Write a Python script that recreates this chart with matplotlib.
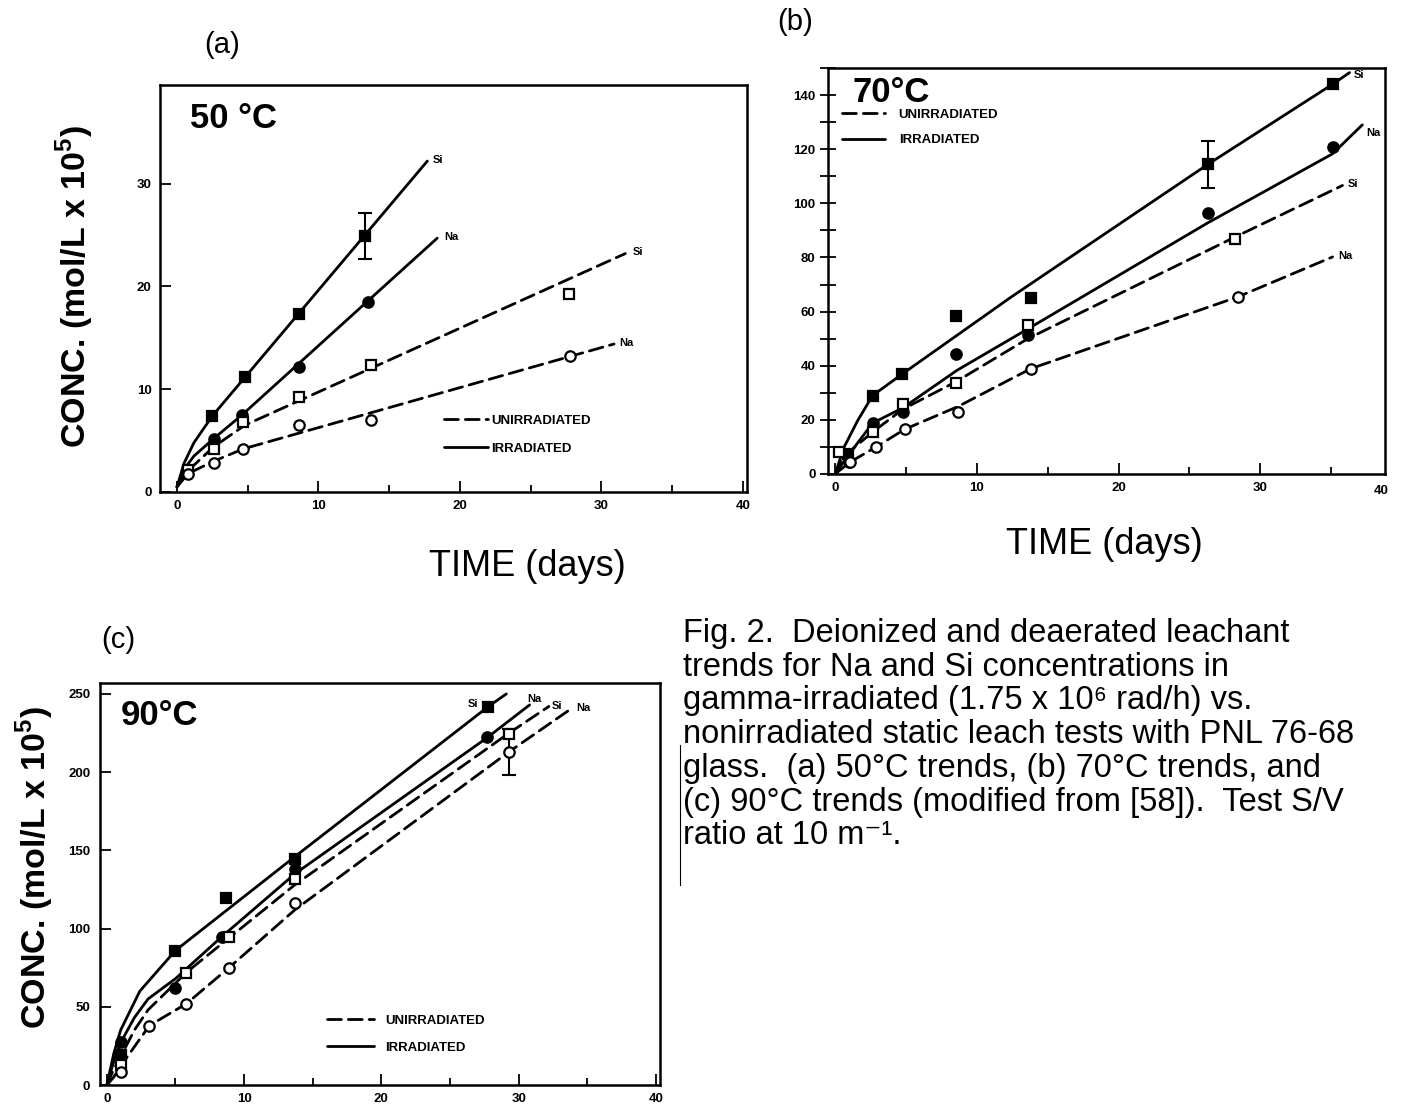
import matplotlib
matplotlib.use("Agg")
import matplotlib.pyplot as plt
from matplotlib.lines import Line2D
from matplotlib.ticker import MultipleLocator

plt.rcParams['font.family'] = ['Liberation Sans', 'DejaVu Sans']
plt.rcParams['mathtext.fontset'] = 'custom'
plt.rcParams['mathtext.rm'] = 'Liberation Sans'
plt.rcParams['mathtext.bf'] = 'Liberation Sans:bold'

# ---------------- (a) 50 C : measured points ----------------
a_si_irr_t = [2.5, 4.8, 8.6, 13.3]
a_si_irr_c = [7.4, 11.2, 17.3, 24.9]
a_na_irr_t = [2.6, 4.6, 8.6, 13.5]
a_na_irr_c = [5.2, 7.5, 12.2, 18.5]
a_si_un_t = [0.8, 2.6, 4.7, 8.6, 13.7, 27.7]
a_si_un_c = [2.1, 4.2, 6.8, 9.2, 12.4, 19.3]
a_na_un_t = [0.8, 2.6, 4.7, 8.6, 13.7, 27.8]
a_na_un_c = [1.8, 2.8, 4.2, 6.5, 7.0, 13.2]
a_err_t, a_err_c, a_err = [13.3], [24.9], [2.25]
# trend curves as drawn in the figure
a_si_irr_fit_t = [0, 0.5, 1.2, 2.5, 17.7]
a_si_irr_fit_c = [0.5, 2.8, 4.8, 7.4, 32.2]
a_na_irr_fit_t = [0, 0.6, 1.2, 2.6, 4.6, 18.4]
a_na_irr_fit_c = [0.5, 2.4, 3.5, 5.2, 7.5, 24.7]
a_si_un_fit_t = [0, 0.8, 2.6, 4.8, 31.7]
a_si_un_fit_c = [0.5, 2.1, 4.4, 6.5, 23.2]
a_na_un_fit_t = [0, 0.8, 2.6, 4.7, 30.9]
a_na_un_fit_c = [0.5, 1.8, 3.0, 4.2, 14.4]

# ---------------- (b) 70 C ----------------
b_si_irr_t = [0.9, 2.65, 4.7, 8.5, 13.8, 26.3, 35.1]
b_si_irr_c = [7.5, 29.0, 36.8, 58.2, 64.9, 114.4, 144.0]
b_na_irr_t = [1.0, 2.65, 4.8, 8.5, 13.6, 26.3, 35.1]
b_na_irr_c = [4.5, 18.8, 22.9, 44.4, 51.5, 96.5, 120.8]
b_si_un_t = [0.25, 2.65, 4.8, 8.5, 13.6, 28.2]
b_si_un_c = [8.1, 15.5, 25.7, 33.6, 54.9, 87.0]
b_na_un_t = [1.05, 2.9, 4.9, 8.7, 13.8, 28.4]
b_na_un_c = [4.4, 10.0, 16.7, 22.9, 38.9, 65.4]
b_err_t, b_err_c, b_err = [26.3], [114.4], [8.6]
b_si_irr_fit_t = [0, 0.64, 1.6, 2.65, 4.7, 12.4, 26.3, 35.1, 36.3]
b_si_irr_fit_c = [0, 10, 19.8, 29.0, 36.8, 65.3, 114.4, 144.0, 148.3]
b_na_irr_fit_t = [0, 0.8, 2.65, 4.8, 8.6, 13.6, 26.3, 35.1, 37.2]
b_na_irr_fit_c = [0, 6, 18.8, 24.5, 38.3, 53.6, 92.8, 118.3, 129]
b_si_un_fit_t = [0, 0.5, 2.65, 4.8, 8.5, 13.6, 28.2, 35.8]
b_si_un_fit_c = [0, 6, 15.5, 24, 34, 50, 87.5, 106.6]
b_na_un_fit_t = [0, 1.05, 2.9, 4.9, 8.7, 13.8, 28.4, 35.1]
b_na_un_fit_c = [0, 4.4, 10, 16.5, 25, 38.9, 65.4, 80.2]

# ---------------- (c) 90 C ----------------
c_si_irr_t = [1.0, 5.0, 8.7, 13.7, 27.8]
c_si_irr_c = [19.0, 85.6, 119.3, 144.7, 241.8]
c_na_irr_t = [1.0, 5.0, 8.4, 13.7, 27.7]
c_na_irr_c = [27.6, 62.2, 94.9, 137.9, 222.6]
c_si_un_t = [1.0, 5.8, 8.9, 13.7, 29.3]
c_si_un_c = [12.7, 71.7, 94.8, 132.0, 224.6]
c_na_un_t = [1.0, 3.1, 5.8, 8.9, 13.7, 29.3]
c_na_un_c = [8.4, 38.0, 51.5, 74.6, 116.6, 212.9]
c_err_t, c_err_c, c_err = [29.3], [212.9], [14.5]
c_si_irr_fit_t = [0, 0.5, 1.0, 2.4, 5.0, 13.7, 27.8, 29.1]
c_si_irr_fit_c = [0, 20, 35, 60, 86, 146, 242, 250]
c_na_irr_fit_t = [0, 0.5, 1.0, 2.0, 3.0, 5.0, 8.4, 13.7, 27.7, 30.8]
c_na_irr_fit_c = [0, 15, 27, 43, 55, 68, 95, 135, 222, 243]
c_si_un_fit_t = [0, 0.5, 1.0, 2.0, 3.0, 5.8, 8.9, 13.7, 29.3, 32.2]
c_si_un_fit_c = [0, 10, 18, 35, 48, 72, 94, 128, 225, 242]
c_na_un_fit_t = [0, 0.5, 1.0, 3.1, 5.8, 8.9, 13.7, 29.3, 33.9]
c_na_un_fit_c = [0, 5, 12, 38, 52, 75, 112, 213, 241]

caption = [
    "Fig. 2.  Deionized and deaerated leachant",
    "trends for Na and Si concentrations in",
    "gamma-irradiated (1.75 x 10\u2076 rad/h) vs.",
    "nonirradiated static leach tests with PNL 76-68",
    "glass.  (a) 50°C trends, (b) 70°C trends, and",
    "(c) 90°C trends (modified from [58]).  Test S/V",
    "ratio at 10 m\u207b\u00b9.",
]

W, H = 1405, 1108
fig = plt.figure(figsize=(W / 100, H / 100), dpi=100)


def px_axes(l, t, r, b):
    return fig.add_axes([l / W, 1 - b / H, (r - l) / W, (b - t) / H])


def ftext(x, y, s, **kw):
    fig.text(x / W, 1 - y / H, s, **kw)


tick_font = dict(fontsize=9.5, fontweight='bold')
small_bold = dict(fontsize=8, fontweight='bold')


def draw_panel(ax, pts, fits, err, labels, temp, temp_xy, leg_anchor,
               leg_len, leg_pad, leg_space):
    # fits: (t, c, kind) -- kind 'irr' solid, 'un' dashed
    handles = {}
    for (t, c, kind) in fits:
        ls = '-' if kind == 'irr' else (0, (5, 2.5))
        ln, = ax.plot(t, c, color='k', lw=2.0, linestyle=ls, zorder=2,
                      solid_capstyle='round', dash_capstyle='round')
        handles.setdefault(kind, ln)
    for (t, c, mk, filled) in pts:
        ax.plot(t, c, linestyle='none', marker=mk,
                ms=7.5 if mk == 'o' else 7,
                mfc='k' if filled else 'white', mec='k', mew=1.6, zorder=4)
    et, ec, ee = err
    ax.errorbar(et, ec, yerr=ee, fmt='none', ecolor='k', elinewidth=1.5,
                capsize=5, capthick=1.5, zorder=3)
    for (t, c, s, dx, dy, ha) in labels:
        ax.annotate(s, (t[-1], c[-1]), xytext=(dx, dy),
                    textcoords='offset points', ha=ha, va='center',
                    **small_bold)
    ax.text(temp_xy[0], temp_xy[1], temp, fontsize=25, fontweight='bold',
            ha='left', va='center')
    handles['un'].set_label('UNIRRADIATED')
    handles['irr'].set_label('IRRADIATED')
    ax.legend(handles=[handles['un'], handles['irr']], loc='upper left',
              bbox_to_anchor=leg_anchor, frameon=False, borderpad=0,
              borderaxespad=0, handlelength=leg_len, handletextpad=leg_pad,
              labelspacing=leg_space, prop=dict(size=9.5, weight='bold'))
    for sp in ax.spines.values():
        sp.set_linewidth(1.8)
    ax.xaxis.set_major_locator(MultipleLocator(10))
    ax.xaxis.set_minor_locator(MultipleLocator(5))
    ax.tick_params(which='both', direction='in', top=False, right=False,
                   width=1.3, labelsize=9.5)
    for lab in ax.get_xticklabels() + ax.get_yticklabels():
        lab.set_fontweight('bold')


# ---------------- panel (a) ----------------
ax_a = px_axes(160, 85, 747, 492)
ax_a.set_xlim(-1.2, 40.3)
ax_a.set_ylim(0, 39.6)
draw_panel(
    ax_a,
    [(a_si_irr_t, a_si_irr_c, 's', True), (a_na_irr_t, a_na_irr_c, 'o', True),
     (a_si_un_t, a_si_un_c, 's', False), (a_na_un_t, a_na_un_c, 'o', False)],
    [(a_si_irr_fit_t, a_si_irr_fit_c, 'irr'), (a_na_irr_fit_t, a_na_irr_fit_c, 'irr'),
     (a_si_un_fit_t, a_si_un_fit_c, 'un'), (a_na_un_fit_t, a_na_un_fit_c, 'un')],
    (a_err_t, a_err_c, a_err),
    [(a_si_irr_fit_t, a_si_irr_fit_c, 'Si', 4, 1, 'left'),
     (a_na_irr_fit_t, a_na_irr_fit_c, 'Na', 5, 1, 'left'),
     (a_si_un_fit_t, a_si_un_fit_c, 'Si', 5, 1, 'left'),
     (a_na_un_fit_t, a_na_un_fit_c, 'Na', 4, 1, 'left')],
    '50 °C', (0.9, 36.3), (0.483, 0.19), 3.4, 0.2, 1.2)
ax_a.yaxis.set_major_locator(MultipleLocator(10))
ax_a.tick_params(axis='both', which='major', length=8, pad=6)
ax_a.tick_params(axis='x', which='minor', length=5)
ax_a.tick_params(axis='y', which='minor', left=False)

# ---------------- panel (b) ----------------
ax_b = px_axes(828, 68, 1385, 474)
ax_b.set_xlim(-0.5, 38.8)
ax_b.set_ylim(0, 150)
draw_panel(
    ax_b,
    [(b_si_irr_t, b_si_irr_c, 's', True), (b_na_irr_t, b_na_irr_c, 'o', True),
     (b_si_un_t, b_si_un_c, 's', False), (b_na_un_t, b_na_un_c, 'o', False)],
    [(b_si_irr_fit_t, b_si_irr_fit_c, 'irr'), (b_na_irr_fit_t, b_na_irr_fit_c, 'irr'),
     (b_si_un_fit_t, b_si_un_fit_c, 'un'), (b_na_un_fit_t, b_na_un_fit_c, 'un')],
    (b_err_t, b_err_c, b_err),
    [(b_si_irr_fit_t, b_si_irr_fit_c, 'Si', 3, -2, 'left'),
     (b_na_irr_fit_t, b_na_irr_fit_c, 'Na', 3, -6, 'left'),
     (b_si_un_fit_t, b_si_un_fit_c, 'Si', 4, 1, 'left'),
     (b_na_un_fit_t, b_na_un_fit_c, 'Na', 4, 1, 'left')],
    '70°C', (1.2, 141), (0.025, 0.9), 3.3, 1.0, 1.0)
ax_b.yaxis.set_major_locator(MultipleLocator(20))
ax_b.yaxis.set_minor_locator(MultipleLocator(10))
ax_b.tick_params(axis='y', which='both', direction='inout', length=12, pad=3)
ax_b.tick_params(axis='x', which='major', length=8, pad=6)
ax_b.tick_params(axis='x', which='minor', length=5)
ax_b.text(38.5, -4, '40', ha='center', va='top', clip_on=False, **tick_font)

# ---------------- panel (c) ----------------
ax_c = px_axes(100, 683, 660, 1085)
ax_c.set_xlim(-0.5, 40.3)
ax_c.set_ylim(0, 257)
draw_panel(
    ax_c,
    [(c_si_irr_t, c_si_irr_c, 's', True), (c_na_irr_t, c_na_irr_c, 'o', True),
     (c_si_un_t, c_si_un_c, 's', False), (c_na_un_t, c_na_un_c, 'o', False)],
    [(c_si_irr_fit_t, c_si_irr_fit_c, 'irr'), (c_na_irr_fit_t, c_na_irr_fit_c, 'irr'),
     (c_si_un_fit_t, c_si_un_fit_c, 'un'), (c_na_un_fit_t, c_na_un_fit_c, 'un')],
    (c_err_t, c_err_c, c_err),
    [(c_si_irr_t, c_si_irr_c, 'Si', -7, 2, 'right'),
     (c_na_irr_fit_t, c_na_irr_fit_c, 'Na', -2, 4, 'left'),
     (c_si_un_fit_t, c_si_un_fit_c, 'Si', 2, 0, 'left'),
     (c_na_un_fit_t, c_na_un_fit_c, 'Na', 3, 0, 'left')],
    '90°C', (1.0, 236), (0.405, 0.175), 3.6, 0.8, 1.1)
ax_c.yaxis.set_major_locator(MultipleLocator(50))
ax_c.tick_params(axis='y', which='major', length=8, pad=7)
ax_c.tick_params(axis='y', which='minor', left=False)
ax_c.tick_params(axis='x', which='major', length=8, pad=6)
ax_c.tick_params(axis='x', which='minor', length=5)

# ---------------- labels and caption ----------------
ftext(222, 45, '(a)', fontsize=21, ha='center', va='center')
ftext(795, 22, '(b)', fontsize=21, ha='center', va='center')
ftext(118, 640, '(c)', fontsize=21, ha='center', va='center')

ftext(527, 567, 'TIME (days)', fontsize=26, ha='center', va='center')
ftext(1104, 545, 'TIME (days)', fontsize=26, ha='center', va='center')

ylab = r"CONC. (mol/L x 10$^{\mathbf{5}}$)"
ftext(75, 287, ylab, fontsize=24.5, fontweight='bold', rotation=90,
      ha='center', va='center')
ftext(35, 868, ylab, fontsize=24.5, fontweight='bold', rotation=90,
      ha='center', va='center')

for i, line in enumerate(caption):
    ftext(683, 642 + 33.7 * i, line, fontsize=23.5, ha='left', va='baseline')

# scan margin mark beside the caption
fig.add_artist(Line2D([680 / W, 680 / W], [1 - 745 / H, 1 - 885 / H],
                      color='k', lw=0.8))

fig.savefig('out.png', dpi=100)
